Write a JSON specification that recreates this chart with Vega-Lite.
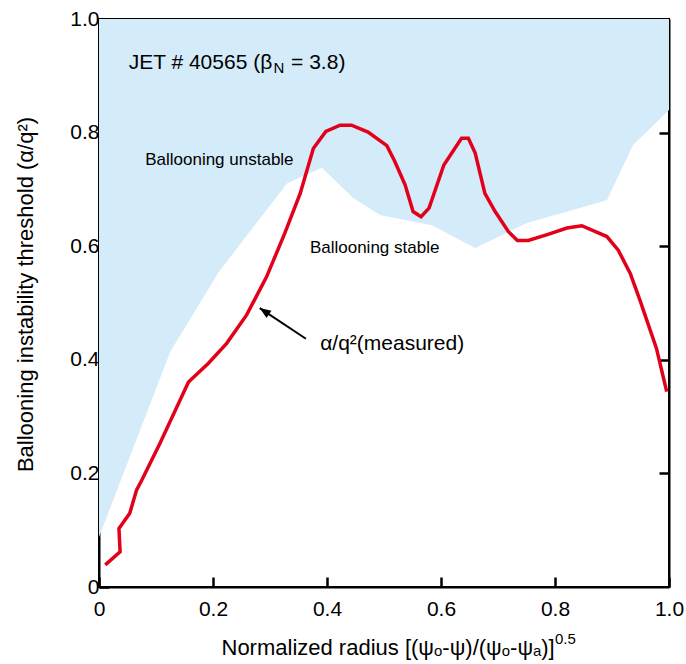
{
  "$schema": "https://vega.github.io/schema/vega-lite/v6.json",
  "width": 570,
  "height": 568,
  "autosize": "none",
  "padding": {"left": 99, "top": 19, "right": 17, "bottom": 77},
  "config": {
    "font": "Liberation Sans",
    "view": {"stroke": "black", "strokeWidth": 2},
    "axis": {
      "domainColor": "black", "domainWidth": 2,
      "tickColor": "black", "tickWidth": 2.5, "tickSize": -10,
      "labelFontSize": 21, "labelColor": "black", "labelFont": "Liberation Sans",
      "titleFontSize": 22, "titleFontWeight": "normal", "titleColor": "black", "titleFont": "Liberation Sans",
      "grid": false
    }
  },
  "resolve": {"axis": {"x": "independent", "y": "independent"}},
  "layer": [
    {
      "data": {"values": [
        {"r": 0.0, "t": 0.088}, {"r": 0.125, "t": 0.414}, {"r": 0.209, "t": 0.553},
        {"r": 0.330, "t": 0.711}, {"r": 0.391, "t": 0.738}, {"r": 0.446, "t": 0.685},
        {"r": 0.493, "t": 0.655}, {"r": 0.584, "t": 0.637}, {"r": 0.660, "t": 0.597},
        {"r": 0.751, "t": 0.641}, {"r": 0.891, "t": 0.681}, {"r": 0.937, "t": 0.778},
        {"r": 1.0, "t": 0.84}
      ]},
      "mark": {"type": "area", "color": "#d4ebf9", "opacity": 1},
      "encoding": {
        "x": {"field": "r", "type": "quantitative", "scale": {"domain": [0, 1], "nice": false},
          "axis": {"orient": "bottom", "values": [0, 0.2, 0.4, 0.6, 0.8, 1], "labelExpr": "datum.value == 0 ? '0' : format(datum.value, '.1f')",
            "title": "Normalized radius [(ψₒ-ψ)/(ψₒ-ψₐ)]", "labelPadding": 21, "titlePadding": 18, "titleX": 122, "titleAlign": "left", "labelFlush": false}},
        "y": {"field": "t", "type": "quantitative", "scale": {"domain": [0, 1], "nice": false},
          "axis": {"orient": "left", "values": [0, 0.2, 0.4, 0.6, 0.8, 1], "labelExpr": "datum.value == 0 ? '0' : format(datum.value, '.1f')",
            "title": "Ballooning instability threshold (α/q²)", "titleFontSize": 22, "labelPadding": 10, "titlePadding": 32, "titleY": 275, "titleAlign": "center", "labelFlush": false}},
        "y2": {"datum": 1}
      }
    },
    {
      "data": {"values": [
        {"r": 0.011, "t": 0.039}, {"r": 0.037, "t": 0.062}, {"r": 0.035, "t": 0.103},
        {"r": 0.054, "t": 0.130}, {"r": 0.066, "t": 0.171}, {"r": 0.075, "t": 0.188},
        {"r": 0.107, "t": 0.253}, {"r": 0.157, "t": 0.361}, {"r": 0.192, "t": 0.394},
        {"r": 0.224, "t": 0.429}, {"r": 0.259, "t": 0.479}, {"r": 0.294, "t": 0.546},
        {"r": 0.326, "t": 0.623}, {"r": 0.353, "t": 0.693}, {"r": 0.376, "t": 0.772},
        {"r": 0.398, "t": 0.802}, {"r": 0.423, "t": 0.813}, {"r": 0.443, "t": 0.813},
        {"r": 0.472, "t": 0.801}, {"r": 0.505, "t": 0.777}, {"r": 0.519, "t": 0.749},
        {"r": 0.537, "t": 0.708}, {"r": 0.551, "t": 0.661}, {"r": 0.565, "t": 0.652},
        {"r": 0.579, "t": 0.667}, {"r": 0.605, "t": 0.743}, {"r": 0.636, "t": 0.790},
        {"r": 0.648, "t": 0.790}, {"r": 0.660, "t": 0.764}, {"r": 0.677, "t": 0.693},
        {"r": 0.695, "t": 0.661}, {"r": 0.718, "t": 0.626}, {"r": 0.734, "t": 0.610},
        {"r": 0.753, "t": 0.610}, {"r": 0.785, "t": 0.620}, {"r": 0.821, "t": 0.632},
        {"r": 0.847, "t": 0.636}, {"r": 0.891, "t": 0.617}, {"r": 0.911, "t": 0.593},
        {"r": 0.932, "t": 0.552}, {"r": 0.949, "t": 0.505}, {"r": 0.978, "t": 0.420},
        {"r": 0.996, "t": 0.344}
      ]},
      "mark": {"type": "line", "color": "#e2001a", "strokeWidth": 3.5, "strokeJoin": "miter"},
      "encoding": {
        "x": {"field": "r", "type": "quantitative", "scale": {"domain": [0, 1], "nice": false},
          "axis": {"orient": "top", "values": [0.2, 0.4, 0.6, 0.8], "labels": false, "title": null}},
        "y": {"field": "t", "type": "quantitative", "scale": {"domain": [0, 1], "nice": false},
          "axis": {"orient": "right", "values": [0.2, 0.4, 0.6, 0.8], "labels": false, "title": null}},
        "order": {"value": null}
      }
    },
    {
      "data": {"values": [{"x": 0.363, "y": 0.437, "x2": 0.282, "y2": 0.491}]},
      "mark": {"type": "rule", "color": "black", "strokeWidth": 2},
      "encoding": {
        "x": {"field": "x", "type": "quantitative", "scale": {"domain": [0, 1], "nice": false}, "axis": null},
        "y": {"field": "y", "type": "quantitative", "scale": {"domain": [0, 1], "nice": false}, "axis": null},
        "x2": {"field": "x2"},
        "y2": {"field": "y2"}
      }
    },
    {
      "data": {"values": [{"x": 0.282, "y": 0.491}]},
      "mark": {"type": "point", "shape": "M0,0L-0.4,1L0.4,1Z", "filled": true, "color": "black", "opacity": 1, "size": 500, "angle": 304},
      "encoding": {
        "x": {"field": "x", "type": "quantitative", "scale": {"domain": [0, 1], "nice": false}, "axis": null},
        "y": {"field": "y", "type": "quantitative", "scale": {"domain": [0, 1], "nice": false}, "axis": null}
      }
    },
    {
      "data": {"values": [
        {"x": 0.052, "y": 0.922, "label": "JET # 40565 (β"},
        {"x": 0.337, "y": 0.922, "label": "= 3.8)"},
        {"x": 0.388, "y": 0.428, "label": "α/q²(measured)"}
      ]},
      "mark": {"type": "text", "align": "left", "baseline": "middle", "fontSize": 21, "color": "black"},
      "encoding": {
        "x": {"field": "x", "type": "quantitative", "scale": {"domain": [0, 1], "nice": false}, "axis": null},
        "y": {"field": "y", "type": "quantitative", "scale": {"domain": [0, 1], "nice": false}, "axis": null},
        "text": {"field": "label"}
      }
    },
    {
      "data": {"values": [{"x": 0.306, "y": 0.913, "label": "N"}]},
      "mark": {"type": "text", "align": "left", "baseline": "middle", "fontSize": 15, "color": "black"},
      "encoding": {
        "x": {"field": "x", "type": "quantitative", "scale": {"domain": [0, 1], "nice": false}, "axis": null},
        "y": {"field": "y", "type": "quantitative", "scale": {"domain": [0, 1], "nice": false}, "axis": null},
        "text": {"field": "label"}
      }
    },
    {
      "data": {"values": [{"x": 0.800, "y": -0.091, "label": "0.5"}]},
      "mark": {"type": "text", "align": "left", "baseline": "middle", "fontSize": 15, "color": "black"},
      "encoding": {
        "x": {"field": "x", "type": "quantitative", "scale": {"domain": [0, 1], "nice": false}, "axis": null},
        "y": {"field": "y", "type": "quantitative", "scale": {"domain": [0, 1], "nice": false}, "axis": null},
        "text": {"field": "label"}
      }
    },
    {
      "data": {"values": [
        {"x": 0.081, "y": 0.752, "label": "Ballooning unstable"},
        {"x": 0.370, "y": 0.597, "label": "Ballooning stable"}
      ]},
      "mark": {"type": "text", "align": "left", "baseline": "middle", "fontSize": 17, "color": "black"},
      "encoding": {
        "x": {"field": "x", "type": "quantitative", "scale": {"domain": [0, 1], "nice": false}, "axis": null},
        "y": {"field": "y", "type": "quantitative", "scale": {"domain": [0, 1], "nice": false}, "axis": null},
        "text": {"field": "label"}
      }
    }
  ]
}
